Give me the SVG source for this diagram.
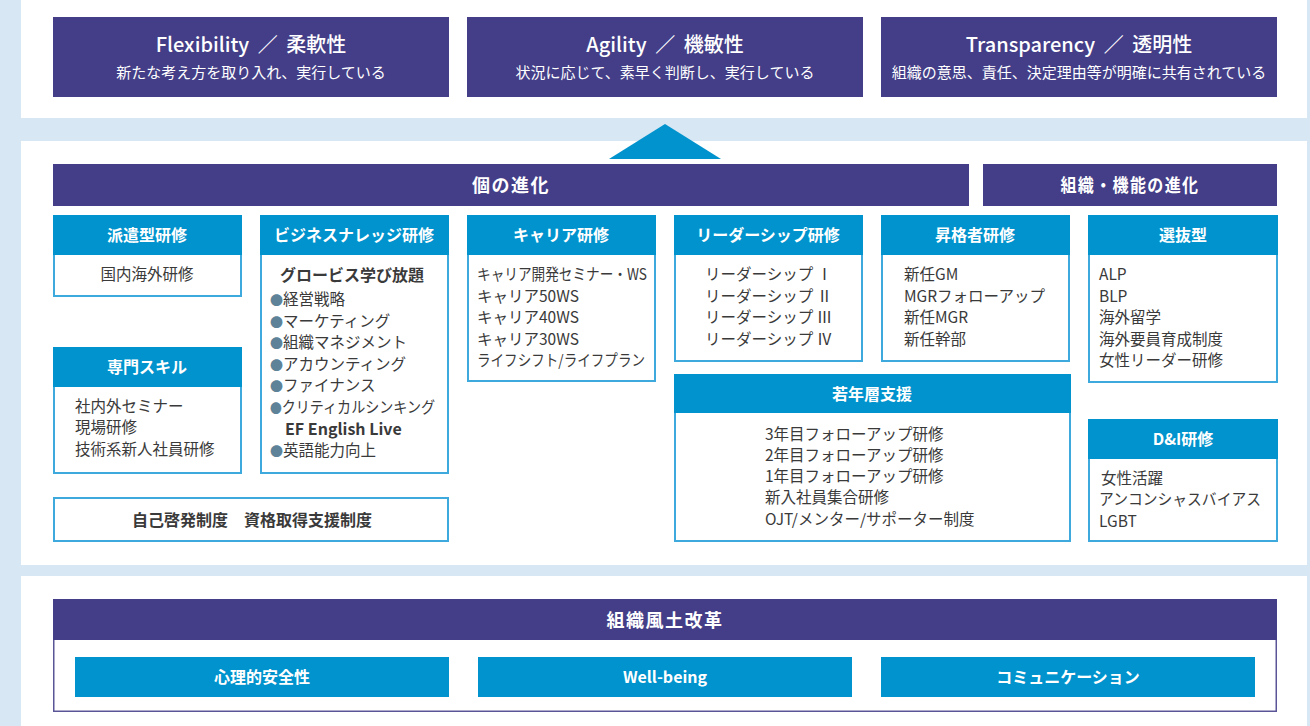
<svg xmlns="http://www.w3.org/2000/svg" width="1310" height="726" viewBox="0 0 1310 726">
<style>
text{font-family:"Noto Sans CJK JP","Noto Sans",sans-serif}
.bg{fill:#D8E7F4}
.panel{fill:#FFFFFF}
.dark{fill:#433E87}
.blue{fill:#0093CD}
.box{fill:#FFFFFF;stroke:#3EA9DD;stroke-width:2}
.t1{fill:#FFFFFF;font-size:20px;font-weight:500;text-anchor:middle}
.t2{fill:#FFFFFF;font-size:15px;text-anchor:middle}
.bar{fill:#FFFFFF;font-size:18px;font-weight:700;text-anchor:middle;letter-spacing:1.5px}
.hd{fill:#FFFFFF;font-size:16px;font-weight:700;text-anchor:middle}
.bd{fill:#3A3A3A;font-size:15.5px}
.bc{fill:#3A3A3A;font-size:15.5px;text-anchor:middle}
.bb{fill:#3A3A3A;font-size:16px;font-weight:700}
.dot{fill:#5E8399;font-size:13px}
.frame{fill:#FFFFFF;stroke:#5A5597;stroke-width:1.5}
</style>
<rect class="bg" x="0" y="0" width="1310" height="726"/>
<rect class="panel" x="21" y="0" width="1286" height="118"/>
<rect class="panel" x="21" y="141" width="1286" height="424"/>
<rect class="panel" x="21" y="576" width="1286" height="150"/>

<g id="flexibility">
<rect class="dark" x="53" y="17" width="396" height="80"/>
<text class="t1" x="251" y="52">Flexibility <tspan dx="4">／</tspan><tspan dx="4"> 柔軟性</tspan></text>
<text class="t2" x="251" y="78">新たな考え方を取り入れ、実行している</text>
</g>
<g id="agility">
<rect class="dark" x="467" y="17" width="396" height="80"/>
<text class="t1" x="665" y="52">Agility <tspan dx="4">／</tspan><tspan dx="4"> 機敏性</tspan></text>
<text class="t2" x="665" y="78">状況に応じて、素早く判断し、実行している</text>
</g>
<g id="transparency">
<rect class="dark" x="881" y="17" width="396" height="80"/>
<text class="t1" x="1079" y="52">Transparency <tspan dx="4">／</tspan><tspan dx="4"> 透明性</tspan></text>
<text class="t2" x="1079" y="78">組織の意思、責任、決定理由等が明確に共有されている</text>
</g>

<g id="connectors">
<polygon class="blue" points="609,159 665,124 721,159"/>
</g>

<g id="individual">
<rect class="dark" x="53" y="164" width="916" height="42"/>
<text class="bar" x="511" y="192">個の進化</text>
</g>
<g id="organization">
<rect class="dark" x="983" y="164" width="294" height="42"/>
<text class="bar" x="1130" y="192" textLength="139" lengthAdjust="spacingAndGlyphs">組織・機能の進化</text>
</g>

<g id="haken">
<rect class="box" x="54" y="216" width="187" height="80"/>
<rect class="blue" x="53" y="215" width="189" height="40"/>
<text class="hd" x="147" y="241">派遣型研修</text>
<text class="bc" x="147" y="280">国内海外研修</text>
</g>

<g id="business">
<rect class="box" x="261" y="216" width="187" height="257"/>
<rect class="blue" x="260" y="215" width="189" height="40"/>
<text class="hd" x="354" y="241">ビジネスナレッジ研修</text>
<text class="bb" x="280" y="281">グロービス学び放題</text>
<text class="bd" x="270" y="305"><tspan class="dot">●</tspan>経営戦略</text>
<text class="bd" x="270" y="327"><tspan class="dot">●</tspan>マーケティング</text>
<text class="bd" x="270" y="348"><tspan class="dot">●</tspan>組織マネジメント</text>
<text class="bd" x="270" y="370"><tspan class="dot">●</tspan>アカウンティング</text>
<text class="bd" x="270" y="391"><tspan class="dot">●</tspan>ファイナンス</text>
<text class="bd" x="270" y="413" textLength="165" lengthAdjust="spacingAndGlyphs"><tspan class="dot">●</tspan>クリティカルシンキング</text>
<text class="bb" x="285" y="435">EF English Live</text>
<text class="bd" x="270" y="456"><tspan class="dot">●</tspan>英語能力向上</text>
</g>

<g id="career">
<rect class="box" x="468" y="216" width="187" height="165"/>
<rect class="blue" x="467" y="215" width="189" height="40"/>
<text class="hd" x="561" y="241">キャリア研修</text>
<text class="bd" x="477" y="280" textLength="170" lengthAdjust="spacingAndGlyphs">キャリア開発セミナー・WS</text>
<text class="bd" x="477" y="302">キャリア50WS</text>
<text class="bd" x="477" y="323">キャリア40WS</text>
<text class="bd" x="477" y="345">キャリア30WS</text>
<text class="bd" x="477" y="366" textLength="168" lengthAdjust="spacingAndGlyphs">ライフシフト/ライフプラン</text>
</g>

<g id="leadership">
<rect class="box" x="675" y="216" width="187" height="145"/>
<rect class="blue" x="674" y="215" width="189" height="40"/>
<text class="hd" x="768" y="241">リーダーシップ研修</text>
<text class="bd" x="705" y="280">リーダーシップ Ⅰ</text>
<text class="bd" x="705" y="302">リーダーシップ Ⅱ</text>
<text class="bd" x="705" y="323">リーダーシップ Ⅲ</text>
<text class="bd" x="705" y="345">リーダーシップ Ⅳ</text>
</g>

<g id="promotion">
<rect class="box" x="882" y="216" width="187" height="145"/>
<rect class="blue" x="881" y="215" width="189" height="40"/>
<text class="hd" x="975" y="241">昇格者研修</text>
<text class="bd" x="904" y="280">新任GM</text>
<text class="bd" x="904" y="302">MGRフォローアップ</text>
<text class="bd" x="904" y="323">新任MGR</text>
<text class="bd" x="904" y="345">新任幹部</text>
</g>

<g id="selection">
<rect class="box" x="1089" y="216" width="188" height="166"/>
<rect class="blue" x="1088" y="215" width="190" height="40"/>
<text class="hd" x="1183" y="241">選抜型</text>
<text class="bd" x="1099" y="280">ALP</text>
<text class="bd" x="1099" y="302">BLP</text>
<text class="bd" x="1099" y="323">海外留学</text>
<text class="bd" x="1099" y="345">海外要員育成制度</text>
<text class="bd" x="1099" y="366">女性リーダー研修</text>
</g>

<g id="skill">
<rect class="box" x="54" y="348" width="187" height="125"/>
<rect class="blue" x="53" y="347" width="189" height="40"/>
<text class="hd" x="147" y="373">専門スキル</text>
<text class="bd" x="75" y="412">社内外セミナー</text>
<text class="bd" x="75" y="433">現場研修</text>
<text class="bd" x="75" y="455">技術系新人社員研修</text>
</g>

<g id="selfdev">
<rect class="box" x="54" y="498" width="394" height="43"/>
<text class="bb" x="252" y="526" text-anchor="middle" font-size="16.5">自己啓発制度　資格取得支援制度</text>
</g>

<g id="young">
<rect class="box" x="675" y="375" width="395" height="166"/>
<rect class="blue" x="674" y="374" width="397" height="39"/>
<text class="hd" x="872" y="400">若年層支援</text>
<text class="bd" x="765" y="440">3年目フォローアップ研修</text>
<text class="bd" x="765" y="461">2年目フォローアップ研修</text>
<text class="bd" x="765" y="482">1年目フォローアップ研修</text>
<text class="bd" x="765" y="503">新入社員集合研修</text>
<text class="bd" x="765" y="525">OJT/メンター/サポーター制度</text>
</g>

<g id="di">
<rect class="box" x="1089" y="420" width="188" height="121"/>
<rect class="blue" x="1088" y="419" width="190" height="40"/>
<text class="hd" x="1183" y="445">D&amp;I研修</text>
<text class="bd" x="1101" y="484">女性活躍</text>
<text class="bd" x="1099" y="505" textLength="162" lengthAdjust="spacingAndGlyphs">アンコンシャスバイアス</text>
<text class="bd" x="1099" y="527">LGBT</text>
</g>

<g id="culture">
<rect class="frame" x="53.75" y="599.75" width="1222.5" height="111.5"/>
<rect class="dark" x="53" y="599" width="1224" height="41"/>
<text class="bar" x="665" y="627">組織風土改革</text>
</g>
<g id="safety">
<rect class="blue" x="75" y="657" width="374" height="40"/>
<text class="hd" x="262" y="683">心理的安全性</text>
</g>
<g id="wellbeing">
<rect class="blue" x="478" y="657" width="374" height="40"/>
<text class="hd" x="665" y="683">Well-being</text>
</g>
<g id="communication">
<rect class="blue" x="881" y="657" width="374" height="40"/>
<text class="hd" x="1068" y="683">コミュニケーション</text>
</g>
</svg>
